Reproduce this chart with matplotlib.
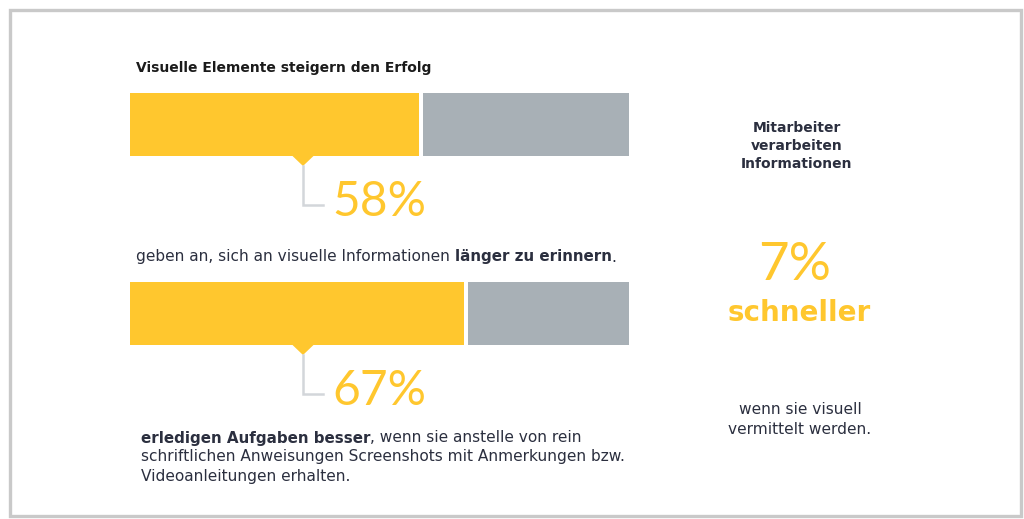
import matplotlib.pyplot as plt
from matplotlib.patches import Rectangle, Polygon

# Werte aus der Grafik
labels = ["Visuelle Elemente", "Aufgaben besser"]
anteile = [58, 67]
prozent_texte = ["58%", "67%"]
schneller_wert = "7%"

GELB = "#FFC72E"
GRAU = "#A8B0B6"
LINIE = "#D3D6DA"
TEXT = "#2B2F3F"
SCHRIFT = "DejaVu Sans"
GROESSE = {"normal": 11.1, "bold": 10.9}

fig = plt.figure(figsize=(10.24, 5.19), dpi=100)
ax = fig.add_axes([0, 0, 1, 1])
ax.set_xlim(0, 1024)
ax.set_ylim(519, 0)
ax.axis("off")

# Rahmen
ax.add_patch(Rectangle((9.5, 9.5), 1011, 506, fill=False, lw=2.4, ec="#C9C9C9"))

# Balken in eigener Achse (0..100 %)
bx = fig.add_axes([130 / 1024, 0, 499 / 1024, 1])
bx.set_xlim(0, 100)
bx.set_ylim(519, 0)
bx.axis("off")
mitten = [124.5, 313.5]
luecke = 0.8
for m, wert in zip(mitten, anteile):
    bx.barh(m, wert, height=63, color=GELB, left=0)
    bx.barh(m, 100 - wert - luecke, height=63, color=GRAU, left=wert + luecke)

# Zeiger und Prozentzahlen
for m, txt in zip(mitten, prozent_texte):
    unten = m + 31.5
    ax.add_patch(Polygon([(292, unten - 0.5), (314, unten - 0.5), (303, unten + 10)],
                         closed=True, color=GELB, lw=0))
    ax.plot([303, 303, 323], [unten + 10, unten + 49, unten + 49], color=LINIE, lw=1.8,
            solid_joinstyle="miter")
    ax.text(332, unten + 60, txt, fontsize=34.5, color=GELB, family="Lato",
            va="baseline", ha="left")


def zeile(x, y, teile, **kw):
    r = fig.canvas.get_renderer()
    for s, w in teile:
        t = ax.text(x, y, s, fontweight=w, fontsize=GROESSE[w], **kw)
        x += t.get_window_extent(r).width


fig.canvas.draw()
stil = dict(color=TEXT, family=SCHRIFT, va="center", ha="left")

ax.text(136, 68, "Visuelle Elemente steigern den Erfolg", fontsize=10, color="#1B1B1B",
        family=SCHRIFT, fontweight="bold", va="center")
zeile(136, 257, [("geben an, sich an visuelle Informationen ", "normal"),
                 ("länger zu erinnern", "bold"), (".", "normal")], **stil)
zeile(141, 438, [("erledigen Aufgaben besser", "bold"),
                 (", wenn sie anstelle von rein", "normal")], **stil)
zeile(141, 457, [("schriftlichen Anweisungen Screenshots mit Anmerkungen bzw.", "normal")], **stil)
zeile(141, 476, [("Videoanleitungen erhalten.", "normal")], **stil)

# rechte Spalte
rechts = dict(color=TEXT, family=SCHRIFT, ha="center", va="center")
for y, s in zip([128, 146, 164], ["Mitarbeiter", "verarbeiten", "Informationen"]):
    ax.text(797, y, s, fontweight="bold", fontsize=10, **rechts)
ax.text(795, 265, schneller_wert, fontsize=38, color=GELB, family="Lato",
        ha="center", va="center")
ax.text(799, 313, "schneller", fontsize=20, color=GELB, family=SCHRIFT,
        fontweight="bold", ha="center", va="center")
ax.text(800, 410, "wenn sie visuell", fontsize=11.1, **rechts)
ax.text(800, 429, "vermittelt werden.", fontsize=11.1, **rechts)

fig.savefig("out.png", dpi=100, facecolor="white")
